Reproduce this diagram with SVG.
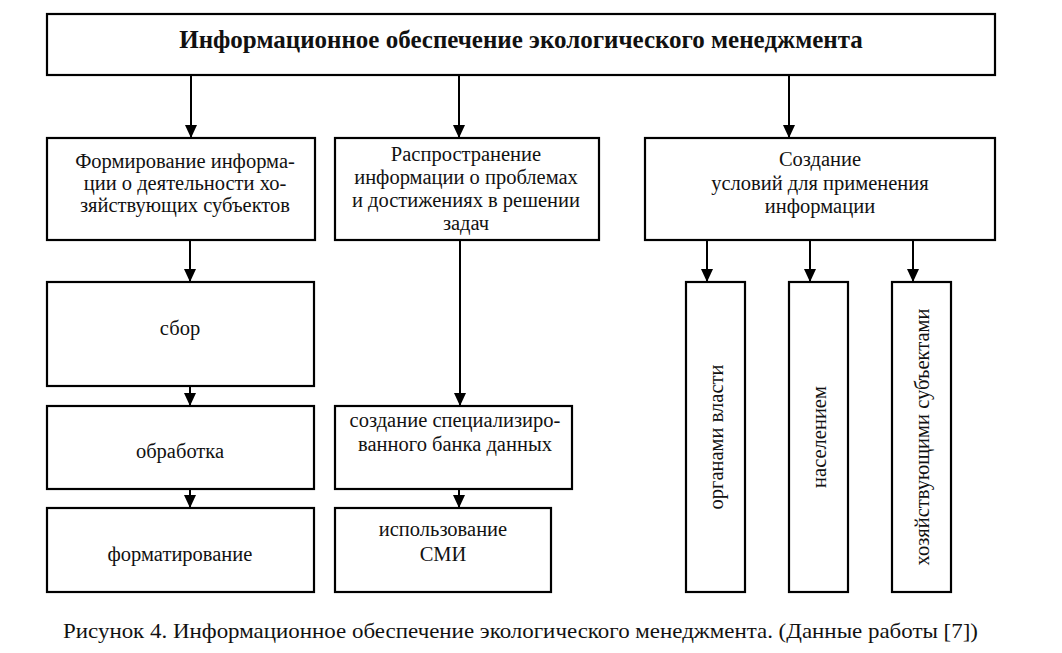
<svg xmlns="http://www.w3.org/2000/svg" width="1062" height="653" viewBox="0 0 1062 653" font-family="Liberation Serif">
<style>
.box{fill:#fff;stroke:#000;stroke-width:2.2}
text{font-family:'Liberation Serif',serif}
.t{font-size:20.5px;fill:#111;text-anchor:middle}
.title{font-size:25px;font-weight:bold;fill:#111;text-anchor:middle}
.cap{font-size:22px;fill:#111}
</style>
<defs>
<marker id="dn" markerWidth="12" markerHeight="13" refX="6" refY="13" markerUnits="userSpaceOnUse" viewBox="0 0 12 13">
<path d="M0,0 L12,0 L6,13 Z" fill="#000"/>
</marker>
</defs>
<rect width="1062" height="653" fill="#fff"/>
<g id="connectors" stroke="#000" stroke-width="2" fill="none">
<path d="M191,75 V138" marker-end="url(#dn)"/>
<path d="M459,75 V138" marker-end="url(#dn)"/>
<path d="M789,75 V138" marker-end="url(#dn)"/>
<path d="M190,240 V282" marker-end="url(#dn)"/>
<path d="M190,386 V406" marker-end="url(#dn)"/>
<path d="M190,489 V508" marker-end="url(#dn)"/>
<path d="M460,240 V406" marker-end="url(#dn)"/>
<path d="M459,489 V508" marker-end="url(#dn)"/>
<path d="M707,240 V282" marker-end="url(#dn)"/>
<path d="M810,240 V282" marker-end="url(#dn)"/>
<path d="M913,240 V282" marker-end="url(#dn)"/>
</g>
<g id="top">
<rect class="box" x="47" y="14" width="948" height="61"/>
<text class="title" font-family="Liberation Serif" x="521" y="48">Информационное обеспечение экологического менеджмента</text>
</g>
<g id="formirovanie">
<rect class="box" x="47" y="138" width="268" height="102"/>
<text class="t" font-family="Liberation Serif" x="185" y="168">Формирование информа-</text>
<text class="t" font-family="Liberation Serif" x="185" y="190">ции о деятельности хо-</text>
<text class="t" font-family="Liberation Serif" x="185" y="212">зяйствующих субъектов</text>
</g>
<g id="rasprostranenie">
<rect class="box" x="335" y="138" width="264" height="102"/>
<text class="t" font-family="Liberation Serif" x="466" y="161">Распространение</text>
<text class="t" font-family="Liberation Serif" x="466" y="184">информации о проблемах</text>
<text class="t" font-family="Liberation Serif" x="466" y="207">и достижениях в решении</text>
<text class="t" font-family="Liberation Serif" x="466" y="230">задач</text>
</g>
<g id="sozdanie-usloviy">
<rect class="box" x="645" y="138" width="350" height="102"/>
<text class="t" font-family="Liberation Serif" x="820" y="166">Создание</text>
<text class="t" font-family="Liberation Serif" x="820" y="190">условий для применения</text>
<text class="t" font-family="Liberation Serif" x="820" y="213">информации</text>
</g>
<g id="sbor">
<rect class="box" x="47" y="282" width="267" height="104"/>
<text class="t" font-family="Liberation Serif" x="180" y="335">сбор</text>
</g>
<g id="obrabotka">
<rect class="box" x="47" y="406" width="267" height="83"/>
<text class="t" font-family="Liberation Serif" x="180" y="458">обработка</text>
</g>
<g id="formatirovanie">
<rect class="box" x="47" y="508" width="267" height="84"/>
<text class="t" font-family="Liberation Serif" x="180" y="561">форматирование</text>
</g>
<g id="bank">
<rect class="box" x="335" y="406" width="237" height="83"/>
<text class="t" font-family="Liberation Serif" x="455" y="427">создание специализиро-</text>
<text class="t" font-family="Liberation Serif" x="455" y="451">ванного банка данных</text>
</g>
<g id="smi">
<rect class="box" x="335" y="508" width="216" height="84"/>
<text class="t" font-family="Liberation Serif" x="443" y="536">использование</text>
<text class="t" font-family="Liberation Serif" x="443" y="561">СМИ</text>
</g>
<g id="organy">
<rect class="box" x="686" y="282" width="59" height="310"/>
<text class="t" font-family="Liberation Serif" transform="translate(723 437) rotate(-90)">органами власти</text>
</g>
<g id="naselenie">
<rect class="box" x="789" y="282" width="59" height="310"/>
<text class="t" font-family="Liberation Serif" transform="translate(826 437) rotate(-90)">населением</text>
</g>
<g id="subekty">
<rect class="box" x="892" y="282" width="59" height="310"/>
<text class="t" font-family="Liberation Serif" transform="translate(929 437) rotate(-90)">хозяйствующими субъектами</text>
</g>
<text class="cap" font-family="Liberation Serif" x="63" y="638" textLength="915" lengthAdjust="spacingAndGlyphs">Рисунок 4. Информационное обеспечение экологического менеджмента. (Данные работы [7])</text>
</svg>
